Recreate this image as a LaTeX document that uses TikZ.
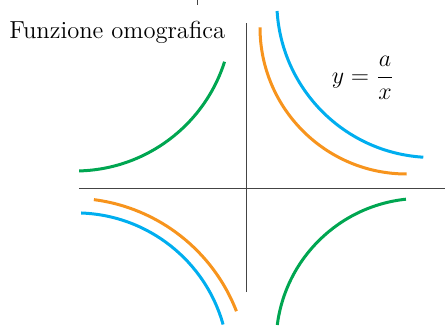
\documentclass[tikz,border=0pt]{standalone}
\usepackage{tikz}
\usetikzlibrary{positioning}
\definecolor{curveG}{HTML}{00A651}
\definecolor{curveO}{HTML}{F7941D}
\definecolor{curveB}{HTML}{00AEEF}
\definecolor{axisline}{HTML}{444444}

\begin{document}
\begin{tikzpicture}[
  x=0.5pt,y=0.5pt,
  axis/.style={draw=axisline,line width=0.5pt},
  curve/.style={line width=1.5pt},
  txt/.style={inner sep=0pt,font=\fontsize{12.3}{14}\selectfont}
]
\useasboundingbox (-247,-139) rectangle (198,188);
\coordinate (xmin) at (-168,0);
\coordinate (xmax) at (198,0);
\coordinate (ymin) at (0,-104);
\coordinate (ymax) at (0,165);
\draw[axis] (xmin) -- (xmax);
\draw[axis] (ymin) -- (ymax);
\draw[axis] (-49,188) -- (-49,183);
\node[txt,anchor=base west] (title) at (-238,149) {Funzione omografica};
\node[txt] (formula) at (116,110) {$\displaystyle y=\frac{a}{x}$};
\foreach \cx/\cy/\a/\b/\r/\col in {
  -172/174/-88.5/-17.7/78.5/curveG,
  174.1/-155.4/172.7/96/72.5/curveG,
  159.7/160.7/180/270/73.35/curveO,
  -175.6/-187.2/82.7/21.2/88.5/curveO,
  185.8/186.5/183.5/266.5/78/curveB,
  -171.2/-177.9/88/15.7/76.5/curveB} {
  \draw[curve,draw=\col,shift={(\cx,\cy)}] (\a:\r pt) arc[start angle=\a,end angle=\b,radius=\r pt];
}
\end{tikzpicture}
\end{document}
